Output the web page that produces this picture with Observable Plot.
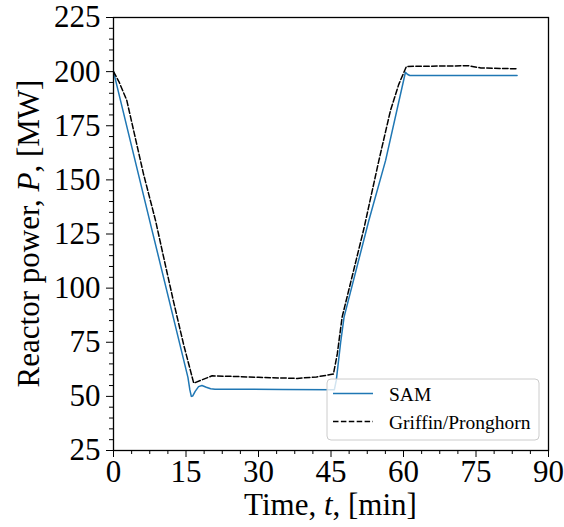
<!DOCTYPE html>
<html><head><meta charset="utf-8">
<script src="https://cdn.jsdelivr.net/npm/d3@7"></script>
<script src="https://cdn.jsdelivr.net/npm/@observablehq/plot@0.6"></script>
<style>html,body{margin:0;padding:0;background:#fff}</style>
</head><body><div id="chart"></div>
<script>
// SAM series
const samTime  = [0, 7.9, 15.4, 15.8, 16.1, 16.4, 16.9, 17.6, 18.3, 19.2, 20.1, 21.0, 25, 35, 45.7, 46.1, 47.0, 47.7, 52.8, 56.3, 60.4, 60.8, 61.3, 70, 83.5];
const samPower = [200, 127.4, 58.8, 53.0, 50.0, 50.2, 52.3, 54.5, 55.0, 54.2, 53.5, 53.3, 53.3, 53.2, 53.1, 57.5, 75, 86.6, 131, 159, 199.7, 198.8, 198.2, 198.2, 198.2];
// Griffin/Pronghorn series
const gpTime  = [0, 1.2, 2.75, 6.2, 8.7, 10.5, 12.4, 14.5, 16.6, 20.4, 25, 30, 38, 42, 45.5, 46.3, 47.3, 51.8, 54.9, 57.3, 59.0, 60.6, 65, 73.5, 76, 83.5];
const gpPower = [200, 195, 186.7, 152.8, 131.2, 113, 94, 74, 56.1, 59.5, 59.2, 58.8, 58.3, 59.0, 60.3, 69.6, 86.6, 127.4, 158.9, 182, 194, 202.4, 202.5, 202.7, 201.7, 201.3];

const seriesNames = ["SAM", "Griffin/Pronghorn"];
const xTicks = [0, 15, 30, 45, 60, 75, 90];
const yTicks = [25, 50, 75, 100, 125, 150, 175, 200, 225];

const sam = samTime.map((t, i) => ({t, p: samPower[i]}));
const gp = gpTime.map((t, i) => ({t, p: gpPower[i]}));
const xMinor = d3.range(0, 90.001, 3.75).filter(v => !xTicks.includes(v));
const yMinor = d3.range(25, 225.001, 5).filter(v => !yTicks.includes(v));

const plot = Plot.plot({
  width: 564, height: 527,
  marginLeft: 113, marginRight: 16, marginTop: 17, marginBottom: 77,
  style: {fontFamily: "'Liberation Serif', 'Times New Roman', serif", fontSize: "31px", background: "white", color: "black"},
  x: {domain: [0, 90], label: null},
  y: {domain: [25, 225], label: null},
  marks: [
    Plot.lineY(sam, {x: "t", y: "p", stroke: "#1f77b4", strokeWidth: 1.5}),
    Plot.lineY(gp, {x: "t", y: "p", stroke: "black", strokeWidth: 1.5, strokeDasharray: "5.5,2.4"}),
    Plot.axisX({ticks: xTicks, tickSize: 7, tickPadding: 2, label: null, tickFormat: d => String(d)}),
    Plot.axisX({ticks: xMinor, tickSize: 4, label: null, tickFormat: () => ""}),
    Plot.axisY({ticks: yTicks, tickSize: 7, tickPadding: 6, label: null, tickFormat: d => String(d)}),
    Plot.axisY({ticks: yMinor, tickSize: 4, label: null, tickFormat: () => ""}),
    Plot.frame({stroke: "black", strokeWidth: 1.3})
  ]
});

const svg = d3.select(plot);
// axis labels
const xl = svg.append("text").attr("x", (113 + 548) / 2).attr("y", 515)
  .attr("text-anchor", "middle").style("font-size", "31px");
xl.append("tspan").text("Time, ");
xl.append("tspan").attr("font-style", "italic").text("t");
xl.append("tspan").text(", [min]");

const yl = svg.append("text").attr("transform", `translate(39,${(17 + 450) / 2}) rotate(-90)`)
  .attr("text-anchor", "middle").style("font-size", "31px");
yl.append("tspan").text("Reactor power, ");
yl.append("tspan").attr("font-style", "italic").text("P");
yl.append("tspan").text(", [MW]");

// legend
const lg = svg.append("g");
lg.append("rect").attr("x", 327).attr("y", 379).attr("width", 212).attr("height", 61).attr("rx", 4)
  .attr("fill", "white").attr("fill-opacity", 0.8).attr("stroke", "#cccccc").attr("stroke-width", 1);
const legendStyles = [
  {stroke: "#1f77b4", dash: null, y: 393.5},
  {stroke: "black", dash: "5.5,2.4", y: 421.5}
];
seriesNames.forEach((name, i) => {
  const s = legendStyles[i];
  const ln = lg.append("line").attr("x1", 333).attr("x2", 373).attr("y1", s.y).attr("y2", s.y)
    .attr("stroke", s.stroke).attr("stroke-width", 1.5);
  if (s.dash) ln.attr("stroke-dasharray", s.dash);
  lg.append("text").attr("x", 389).attr("y", s.y + 7).attr("text-anchor", "start")
    .style("font-size", "19.5px").text(name);
});

document.getElementById("chart").appendChild(plot);
</script>
</body></html>
